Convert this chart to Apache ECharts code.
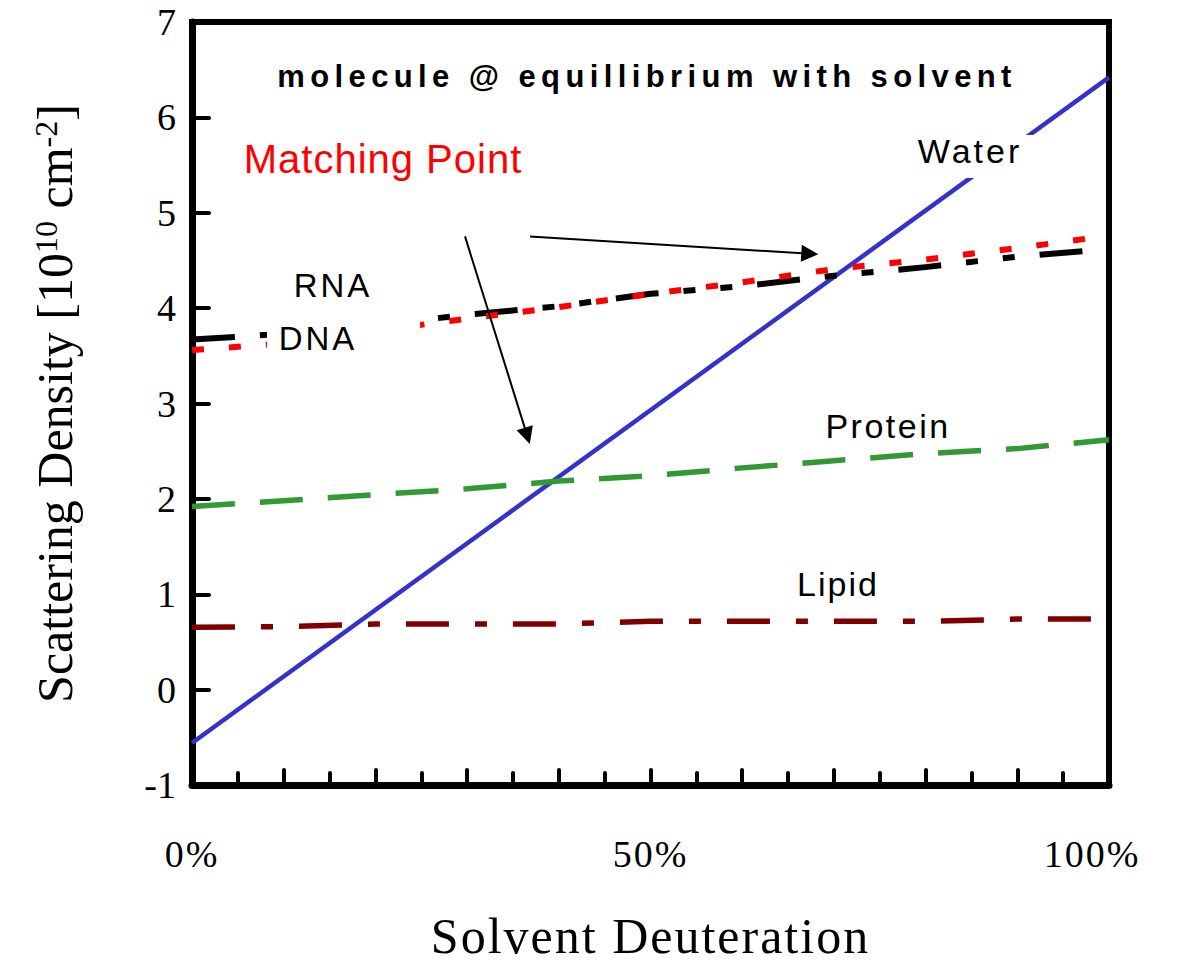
<!DOCTYPE html>
<html>
<head>
<meta charset="utf-8">
<script src="https://cdn.jsdelivr.net/npm/echarts@6/dist/echarts.min.js"></script>
<style>
  html, body { margin: 0; padding: 0; background: #fff; }
  #chart { width: 1180px; height: 966px; }
</style>
</head>
<body>
<div id="chart"></div>
<script>
// Solvent deuteration (%) at which the molecule curves are sampled
const deuteration = [0, 10, 20, 30, 40, 50, 60, 70, 80, 90, 100];

// Scattering length densities, 10^10 cm^-2
const waterDeuteration = [0, 100];
const waterSLD = [-0.56, 6.42];
const rnaSLD = [3.67, 3.73, 3.82, 3.93, 4.02, 4.15, 4.23, 4.34, 4.43, 4.54, 4.62];
const dnaSLD = [3.56, 3.63, 3.76, 3.89, 4.01, 4.15, 4.27, 4.41, 4.51, 4.63, 4.76];
const proteinSLD = [1.92, 1.98, 2.045, 2.105, 2.187, 2.243, 2.325, 2.40, 2.475, 2.527, 2.62];
const lipidSLD = [0.654, 0.66, 0.687, 0.687, 0.688, 0.716, 0.716, 0.716, 0.716, 0.74, 0.74];

// Axis tick labels
const xLabelValues = [0, 50, 100];
const yMin = -1, yMax = 7;

// Arrows from "Matching Point" towards the contrast-match crossings (data coords)
const arrowFrom = [[36.86, 4.752], [29.77, 4.752]];
const arrowTo = [[67.37, 4.570], [36.56, 2.661]];

const titleText = 'molecule @ equillibrium with solvent';
const SANS = '"Liberation Sans", Arial, sans-serif';
const SERIF = '"Liberation Serif", "Times New Roman", serif';

const pair = (xs, ys) => xs.map((x, i) => [x, ys[i]]);

const chart = echarts.init(document.getElementById('chart'), null, { renderer: 'svg' });

const curve = (name, ys, color, width, dash, z) => ({
  name, type: 'line', data: pair(deuteration, ys), symbol: 'none', z,
  lineStyle: { color, width, type: dash, cap: 'butt', join: 'round' },
  emphasis: { disabled: true }, silent: true
});

chart.setOption({
  animation: false,
  grid: {
    left: 192, right: 71, top: 22, bottom: 179,
    show: true, borderColor: '#000', borderWidth: 6, backgroundColor: 'transparent'
  },
  xAxis: {
    type: 'value', min: 0, max: 100, interval: 10,
    name: 'Solvent Deuteration', nameLocation: 'middle', nameGap: 126,
    nameTextStyle: { fontFamily: SERIF, fontSize: 50, color: '#000' },
    axisLine: { show: true, onZero: false, lineStyle: { color: '#000', width: 7 } },
    axisTick: { show: true, inside: true, length: 15, lineStyle: { color: '#000', width: 4, cap: 'round' } },
    minorTick: { show: true, splitNumber: 2, length: 12, lineStyle: { color: '#000', width: 4, cap: 'round' } },
    splitLine: { show: false },
    axisLabel: {
      margin: 50, fontFamily: SERIF, fontSize: 38, color: '#000',
      rich: { end: { fontFamily: SERIF, fontSize: 38, color: '#000', padding: [0, 34, 0, 0] } },
      formatter: v => {
        if (xLabelValues.indexOf(v) < 0) return '';
        return v === 100 ? '{end|' + v + '%}' : v + '%';
      }
    }
  },
  yAxis: {
    type: 'value', min: yMin, max: yMax, interval: 1,
    name: 'Scattering Density [10{sup|10} cm{sup|-2}]',
    nameLocation: 'middle', nameRotate: 90, nameGap: 112,
    nameTextStyle: {
      fontFamily: SERIF, fontSize: 50, color: '#000',
      rich: { sup: { fontFamily: SERIF, fontSize: 32, verticalAlign: 'top', color: '#000' } }
    },
    axisLine: { show: true, onZero: false, lineStyle: { color: '#000', width: 7 } },
    axisTick: { show: true, inside: true, length: 17, lineStyle: { color: '#000', width: 4, cap: 'round' } },
    splitLine: { show: false },
    axisLabel: { margin: 16, fontFamily: SERIF, fontSize: 38, color: '#000' }
  },
  series: [
    {
      name: 'Water', type: 'line', data: pair(waterDeuteration, waterSLD), symbol: 'none', z: 2,
      lineStyle: { color: '#3333cc', width: 4.5 }, emphasis: { disabled: true }, silent: true
    },
    curve('Lipid', lipidSLD, '#800000', 5.5, [43, 26, 12, 26], 3),
    curve('Protein', proteinSLD, '#339933', 5.5, [43, 25], 3),
    curve('RNA', rnaSLD, '#000000', 6, [43, 25, 12, 25, 12, 25], 3),
    curve('DNA', dnaSLD, '#ff0000', 6, [12, 25], 4),
    {
      name: 'arrows', type: 'lines', coordinateSystem: 'cartesian2d', z: 6, silent: true,
      symbol: ['none', 'triangle'], symbolSize: [13, 17],
      lineStyle: { color: '#000', width: 2, opacity: 1, curveness: 0 },
      data: arrowFrom.map((p, i) => ({ coords: [p, arrowTo[i]] }))
    }
  ],
  graphic: [
    // white label boxes that sit over the curves
    { type: 'rect', z: 50, silent: true, shape: { x: 267, y: 258, width: 153, height: 104 }, style: { fill: '#fff' } },
    { type: 'rect', z: 50, silent: true, shape: { x: 905, y: 135, width: 137, height: 43 }, style: { fill: '#fff' } },
    { type: 'text', z: 60, x: 647, y: 76,
      style: { text: titleText, fontFamily: SANS, fontSize: 31, fontWeight: 'bold', fill: '#000', align: 'center', verticalAlign: 'middle' } },
    { type: 'text', z: 60, x: 383, y: 159,
      style: { text: 'Matching Point', fontFamily: SANS, fontSize: 40, fill: '#ff0000', align: 'center', verticalAlign: 'middle' } },
    { type: 'text', z: 60, x: 970, y: 151,
      style: { text: 'Water', fontFamily: SANS, fontSize: 34, fill: '#000', align: 'center', verticalAlign: 'middle' } },
    { type: 'text', z: 60, x: 333, y: 285,
      style: { text: 'RNA', fontFamily: SANS, fontSize: 33, fill: '#000', align: 'center', verticalAlign: 'middle' } },
    { type: 'text', z: 60, x: 318, y: 338,
      style: { text: 'DNA', fontFamily: SANS, fontSize: 33, fill: '#000', align: 'center', verticalAlign: 'middle' } },
    { type: 'text', z: 60, x: 888, y: 426,
      style: { text: 'Protein', fontFamily: SANS, fontSize: 34, fill: '#000', align: 'center', verticalAlign: 'middle' } },
    { type: 'text', z: 60, x: 838, y: 584,
      style: { text: 'Lipid', fontFamily: SANS, fontSize: 34, fill: '#000', align: 'center', verticalAlign: 'middle' } }
  ]
});

// Letter spacing for the spaced-out captions (applied to the SVG text nodes)
const spacing = {
  'molecule @ equillibrium with solvent': 5.4,
  'Solvent Deuteration': 2,
  'Matching Point': 1,
  'Water': 3, 'RNA': 3, 'DNA': 3, 'Protein': 2.5, 'Lipid': 2,
  '0%': 2, '50%': 2, '100%': 2
};
function applySpacing() {
  document.querySelectorAll('#chart svg text').forEach(t => {
    const s = spacing[t.textContent];
    if (s != null) t.style.letterSpacing = s + 'px';
  });
}
applySpacing();
chart.on('finished', applySpacing);
setTimeout(applySpacing, 0);
</script>
</body>
</html>
